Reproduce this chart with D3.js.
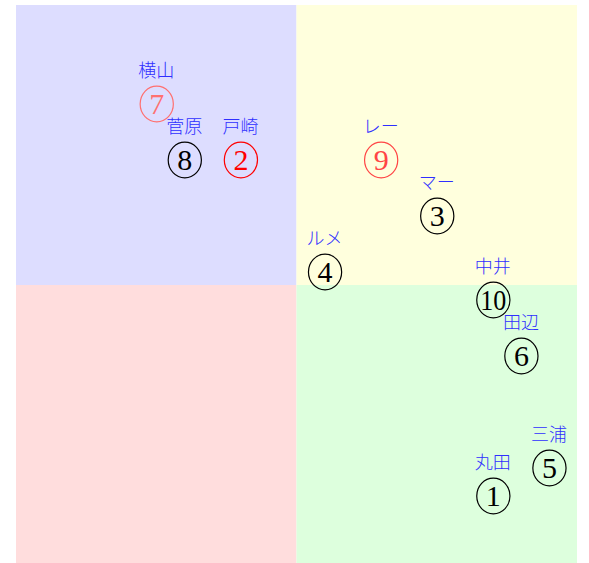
<!DOCTYPE html>
<html>
<head>
<meta charset="utf-8">
<script src="https://cdn.jsdelivr.net/npm/d3@7"></script>
<style>
  body { margin: 0; background: #fff; }
</style>
</head>
<body>
<div class="chart"></div>
<script>
// data
var marks = ["1", "2", "3", "4", "5", "6", "7", "8", "9", "10"];
var names = ["丸田", "戸崎", "マー", "ルメ", "三浦", "田辺", "横山", "菅原", "レー", "中井"];
var xVals = [7, -2, 5, 1, 9, 8, -5, -4, 3, 7];
var yVals = [-7, 5, 3, 1, -6, -2, 7, 5, 5, 0];
var markColors = ["black", "red", "black", "black", "black", "black", "#ff7070", "black", "#ff4545", "black"];

var quadrants = [
  { x0: -10, x1: 0, y0: 0, y1: 10, fill: "#ddddff" },
  { x0: 0, x1: 10, y0: 0, y1: 10, fill: "#ffffdd" },
  { x0: -10, x1: 0, y0: -10, y1: 0, fill: "#ffdddd" },
  { x0: 0, x1: 10, y0: -10, y1: 0, fill: "#ddffdd" }
];

var svgWidth = 589;
var svgHeight = 563;
var margin = { top: 5, left: 16, right: 12, bottom: -2 };
var width = svgWidth - margin.left - margin.right;
var height = svgHeight - margin.top - margin.bottom;

var svg = d3.select(".chart")
  .append("svg")
  .attr("width", svgWidth)
  .attr("height", svgHeight);

var chartGroup = svg.append("g")
  .attr("transform", `translate(${margin.left}, ${margin.top})`);

var xScale = d3.scaleLinear().domain([-10, 10]).range([0, width]);
var yScale = d3.scaleLinear().domain([-10, 10]).range([height, 0]);

// quadrant backgrounds
chartGroup.selectAll("rect.quad")
  .data(quadrants)
  .enter()
  .append("rect")
  .attr("class", "quad")
  .attr("x", d => xScale(d.x0))
  .attr("y", d => yScale(d.y1))
  .attr("width", d => xScale(d.x1) - xScale(d.x0))
  .attr("height", d => yScale(d.y0) - yScale(d.y1))
  .attr("fill", d => d.fill);

var points = marks.map((m, i) => ({
  mark: m, name: names[i], x: xVals[i], y: yVals[i], color: markColors[i]
}));

// circled numbers: ring + serif digit
var markGroup = chartGroup.selectAll("g.mark")
  .data(points)
  .enter()
  .append("g")
  .attr("class", "mark")
  .attr("transform", d => `translate(${xScale(d.x) + 0.5}, ${yScale(d.y) + 15})`);

markGroup.append("ellipse")
  .attr("rx", 16.6)
  .attr("ry", 17.8)
  .attr("fill", "none")
  .attr("stroke", d => d.color)
  .attr("stroke-width", 1.2);

markGroup.append("text")
  .attr("y", 10)
  .attr("text-anchor", "middle")
  .attr("font-family", "'Liberation Serif', 'DejaVu Serif', serif")
  .attr("font-size", 30)
  .attr("fill", d => d.color)
  .each(function(d) {
    if (d.mark.length > 1) {
      d3.select(this).attr("textLength", 26).attr("lengthAdjust", "spacingAndGlyphs");
    }
  })
  .text(d => d.mark);

// name labels
chartGroup.selectAll("text.name")
  .data(points)
  .enter()
  .append("text")
  .attr("class", "name")
  .attr("x", d => xScale(d.x))
  .attr("y", d => yScale(d.y) - 12)
  .attr("text-anchor", "middle")
  .attr("font-family", "'Noto Sans CJK JP', sans-serif")
  .attr("font-size", 18)
  .attr("font-weight", 300)
  .attr("fill", "#2f2fff")
  .text(d => d.name);
</script>
</body>
</html>
